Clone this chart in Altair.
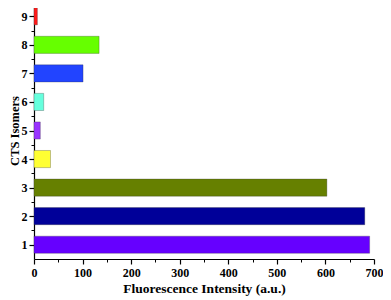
import altair as alt
import pandas as pd

isomers = [1, 2, 3, 4, 5, 6, 7, 8, 9]
intensity = [691, 681, 603, 34, 13, 20, 101, 134, 7]
colors = ["#6600ff", "#000099", "#668000", "#ffff33", "#9933ff",
          "#66ffdd", "#2244ff", "#66ff00", "#ff1a1a"]
x_ticks = [0, 100, 200, 300, 400, 500, 600, 700]
x_minor = [50, 150, 250, 350, 450, 550, 650]
y_minor = [1.5, 2.5, 3.5, 4.5, 5.5, 6.5, 7.5, 8.5]

df = pd.DataFrame({"iso": isomers, "val": intensity, "col": colors})

FONT = "Liberation Serif, Times New Roman, serif"
W, H = 340, 257

xscale = alt.Scale(domain=[0, 700], nice=False, zero=True)
yscale = alt.Scale(domain=[0.5, 9.5], nice=False, zero=False)

bars = alt.Chart(df).transform_calculate(
    y0="datum.iso - 0.3", y1="datum.iso + 0.3"
).mark_bar(stroke="#333333", strokeWidth=0.6, strokeOpacity=0.5).encode(
    x=alt.X("val:Q", scale=xscale,
            axis=alt.Axis(values=x_ticks, title="Fluorescence Intensity (a.u.)",
                          orient="bottom", format="d", tickSize=5, tickWidth=1.2,
                          tickColor="black", domainColor="black", domainWidth=1.2,
                          labelPadding=3, titlePadding=3, labelFlush=False,
                          grid=False)),
    x2=alt.datum(0),
    y=alt.Y("y0:Q", scale=yscale,
            axis=alt.Axis(values=isomers, title="CTS Isomers", orient="left",
                          format="d", tickSize=5, tickWidth=1.2, tickColor="black",
                          domainColor="black", domainWidth=1.2, labelPadding=2,
                          labelFlush=False, titleX=-19.5, titleY=H / 2,
                          titleBaseline="middle", titleFontSize=12.5, grid=False)),
    y2="y1:Q",
    color=alt.Color("col:N", scale=None),
)

minor_x = alt.Chart(pd.DataFrame({"v": x_minor})).mark_point(opacity=0).encode(
    x=alt.X("v:Q", scale=xscale,
            axis=alt.Axis(values=x_minor, orient="bottom", labels=False, title=None,
                          tickSize=3, tickWidth=1, tickColor="black", domain=False,
                          grid=False)),
)
minor_y = alt.Chart(pd.DataFrame({"v": y_minor})).mark_point(opacity=0).encode(
    y=alt.Y("v:Q", scale=yscale,
            axis=alt.Axis(values=y_minor, orient="left", labels=False, title=None,
                          tickSize=3, tickWidth=1, tickColor="black", domain=False,
                          grid=False)),
)

chart = alt.layer(bars, minor_x, minor_y).resolve_axis(
    x="independent", y="independent"
).properties(
    width=W, height=H,
    autosize=alt.AutoSizeParams(type="none"),
    padding={"left": 26, "top": -6, "right": 9, "bottom": 38},
).configure(font=FONT).configure_view(stroke=None).configure_axis(
    labelFont=FONT, titleFont=FONT, labelFontWeight="bold", titleFontWeight="bold",
    labelFontSize=12, titleFontSize=13.5, labelColor="black", titleColor="black",
)

chart.save("out.html", embed_options={"renderer": "svg", "actions": False})
